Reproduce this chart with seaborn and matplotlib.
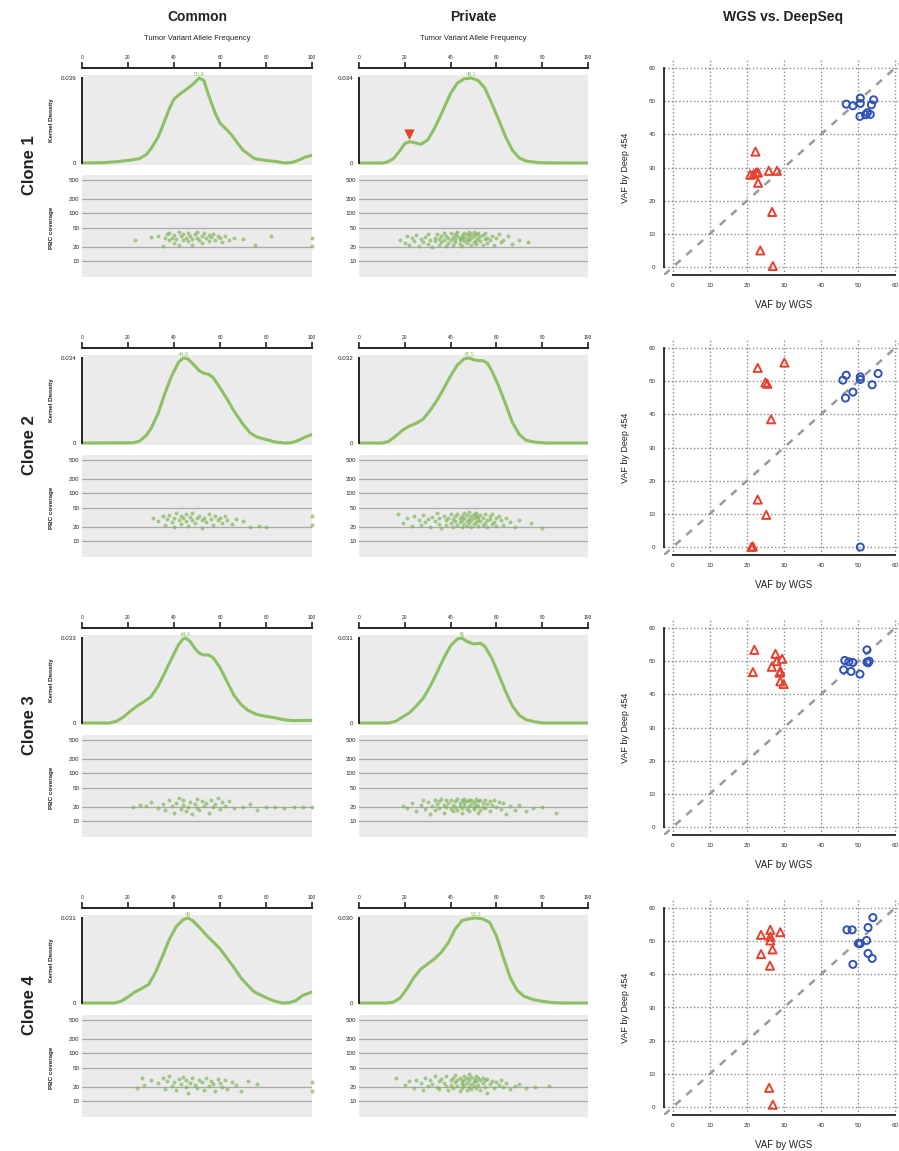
import matplotlib
matplotlib.use('Agg')
import matplotlib.pyplot as plt
import seaborn as sns

# ---------------- data ----------------
clones = ['Clone 1', 'Clone 2', 'Clone 3', 'Clone 4']
vaf_ticks = [0, 20, 40, 60, 80, 100]
cov_ticks = [10, 20, 50, 100, 200, 500]
xy_ticks = [0, 10, 20, 30, 40, 50, 60]

# kernel density curves (density in units of 1e-3)
dx_c1_common = [0, 10, 15, 20, 25, 28, 30, 33, 35, 38, 40, 42, 45, 48, 51, 53, 55, 58, 60, 63,
                65, 68, 70, 75, 80, 85, 88, 91, 94, 97, 100]
dy_c1_common = [0, 0.2, 0.6, 1.2, 2, 3.9, 6.6, 11.7, 16.8, 25, 29.3, 31.2, 33.5, 35.9, 39, 37.8,
                31.2, 22.6, 18.3, 15.2, 12.9, 8.6, 5.9, 2, 1.2, 0.6, 0, 0.2, 1.2, 2.7, 3.5]
dx_c1_private = [0, 10, 12, 15, 18, 20, 22, 24, 27, 30, 33, 36, 40, 43, 46, 49, 52, 55, 58, 61,
                 64, 67, 70, 73, 77, 80, 90, 100]
dy_c1_private = [0, 0, 0.3, 1.7, 5.1, 7.8, 8.5, 8.2, 7.5, 9.2, 13.9, 19.7, 27.9, 32, 33.7, 34, 33,
                 29.9, 23.8, 17.3, 10.5, 5.1, 2, 0.8, 0.3, 0.1, 0, 0]
dx_c2_common = [0, 22, 25, 28, 30, 33, 36, 39, 42, 44, 46, 49, 51, 53, 55, 57, 60, 63, 66, 70,
                73, 76, 80, 84, 88, 91, 94, 97, 100]
dy_c2_common = [0, 0.1, 0.7, 3.1, 5.8, 11.6, 19.7, 26.9, 32.3, 34, 33.7, 30.9, 28.9, 27.9, 27.5,
                26.2, 22.1, 17.7, 12.9, 7.5, 4.1, 2.4, 1.4, 0.4, 0, 0.1, 1, 2.4, 3.4]
dx_c2_private = [0, 10, 13, 16, 19, 22, 25, 28, 31, 34, 37, 40, 43, 46, 48, 50, 52, 54, 56, 58,
                 61, 64, 67, 70, 73, 77, 82, 100]
dy_c2_private = [0, 0, 0.6, 2.6, 4.8, 6.4, 7.4, 9, 12.2, 16, 20.5, 25.3, 29.4, 31.7, 32, 31.4, 31,
                 31, 30.1, 27.2, 21.4, 14.7, 7.7, 3.2, 1, 0.3, 0, 0]
dx_c3_common = [0, 12, 15, 18, 21, 24, 27, 30, 33, 36, 39, 42, 44, 45, 47, 49, 51, 53, 55, 57,
                60, 63, 66, 69, 72, 76, 80, 84, 88, 92, 96, 100]
dy_c3_common = [0, 0, 0.7, 2.3, 4.6, 6.6, 8.3, 10.2, 14.2, 19.5, 25.1, 30.4, 32.7, 33, 31.7, 29,
                27.1, 26.4, 26.4, 25.4, 21.5, 16.2, 10.9, 7.3, 5, 3.3, 2.6, 2, 1.2, 0.9, 1, 1]
dx_c3_private = [0, 13, 16, 19, 22, 25, 28, 31, 34, 37, 40, 43, 45, 47, 50, 53, 55, 58, 61, 64,
                 67, 70, 73, 77, 81, 100]
dy_c3_private = [0, 0, 0.6, 2.2, 3.7, 6.2, 9, 13.3, 18.3, 23.6, 28.2, 30.7, 31, 29.8, 28.8, 29.1,
                 27.9, 23.6, 17.7, 11.5, 6.2, 2.8, 1.2, 0.4, 0, 0]
dx_c4_common = [0, 14, 17, 20, 23, 26, 29, 32, 35, 38, 41, 44, 46, 48, 51, 54, 57, 60, 63, 66,
                69, 72, 75, 78, 81, 84, 87, 90, 93, 96, 100]
dy_c4_common = [0, 0, 0.6, 2.2, 4, 5.3, 6.8, 11.2, 17.1, 23.3, 27.9, 30.4, 31, 30.1, 27.6, 24.8,
                22.3, 19.8, 16.4, 13, 9.3, 6.5, 4, 2.8, 1.6, 0.6, 0, 0.1, 0.9, 2.8, 4]
dx_c4_private = [0, 12, 15, 18, 21, 24, 27, 30, 33, 36, 39, 42, 45, 48, 51, 54, 57, 60, 63, 66,
                 69, 72, 76, 80, 85, 90, 100]
dy_c4_private = [0, 0, 0.3, 1.8, 5.1, 9, 12, 13.8, 15.6, 18, 21.3, 26.1, 29.1, 29.7, 30, 29.7,
                 28.5, 23.7, 16.2, 9, 4.5, 2.4, 1.2, 0.6, 0.1, 0, 0]

peak_labels_common = ['50.9', '44.6', '44.6', '46']
peak_labels_private = ['49.1', '47.5', '45', '52.3']

# flagged sub-peak in clone 1 private
flag_vaf = [21.8]
flag_density = [11.8]

# tumor VAF vs PBC coverage for each variant
cv_c1_common = [23, 30, 33, 35, 36, 37, 38, 38, 39, 40, 40, 41, 42, 42, 43, 44, 44, 45, 46, 46,
                47, 48, 48, 49, 50, 50, 51, 52, 52, 53, 54, 55, 55, 56, 57, 58, 59, 60, 61, 62,
                64, 66, 70, 75, 82, 100, 100]
cc_c1_common = [27, 32, 33, 21, 30, 36, 27, 38, 31, 24, 35, 29, 40, 22, 33, 28, 37, 31, 26, 39,
                34, 29, 22, 36, 41, 31, 27, 34, 24, 38, 30, 35, 26, 32, 37, 28, 33, 30, 25, 34,
                27, 31, 29, 22, 33, 31, 21]
cv_c1_private = [18, 20, 21, 22, 23, 24, 25, 26, 27, 28, 29, 30, 30, 31, 32, 33, 33, 34, 35, 35,
                 36, 36, 37, 37, 38, 38, 39, 39, 40, 40, 41, 41, 42, 42, 42, 43, 43, 44, 44, 44,
                 45, 45, 45, 46, 46, 46, 47, 47, 47, 48, 48, 48, 49, 49, 49, 50, 50, 50, 51, 51,
                 51, 52, 52, 53, 53, 54, 54, 55, 55, 56, 56, 57, 58, 59, 60, 61, 62, 63, 65, 67,
                 70, 74]
cc_c1_private = [28, 24, 33, 22, 30, 26, 35, 21, 29, 25, 32, 23, 37, 27, 20, 31, 26, 36, 22, 29,
                 33, 25, 39, 28, 21, 34, 30, 24, 38, 27, 32, 22, 36, 29, 25, 33, 40, 23, 31, 27,
                 35, 21, 30, 38, 26, 32, 24, 36, 29, 40, 33, 27, 22, 37, 31, 25, 34, 41, 28, 23,
                 36, 30, 39, 26, 33, 22, 35, 29, 38, 24, 31, 27, 34, 22, 30, 36, 25, 28, 33, 23,
                 27, 25]
cv_c2_common = [31, 33, 35, 36, 37, 38, 39, 40, 40, 41, 42, 43, 43, 44, 45, 45, 46, 47, 48, 48,
                49, 50, 51, 52, 52, 53, 54, 55, 56, 57, 58, 59, 60, 61, 62, 63, 65, 67, 70, 73,
                77, 80, 100, 100]
cc_c2_common = [30, 26, 33, 22, 29, 35, 25, 31, 20, 38, 27, 33, 23, 30, 36, 26, 21, 32, 28, 39,
                24, 30, 34, 27, 19, 31, 25, 36, 29, 22, 33, 27, 30, 24, 34, 28, 23, 29, 26, 20,
                21, 20, 33, 22]
cv_c2_private = [17, 19, 21, 23, 24, 26, 27, 28, 29, 30, 31, 32, 33, 34, 35, 35, 36, 37, 38, 38,
                 39, 40, 40, 41, 41, 42, 42, 43, 43, 44, 44, 45, 45, 45, 46, 46, 46, 47, 47, 47,
                 48, 48, 48, 49, 49, 49, 50, 50, 50, 51, 51, 51, 52, 52, 52, 53, 53, 54, 54, 55,
                 55, 56, 56, 57, 57, 58, 58, 59, 60, 60, 61, 62, 63, 64, 66, 68, 70, 75, 80]
cc_c2_private = [36, 24, 30, 21, 33, 27, 22, 35, 25, 29, 20, 32, 26, 38, 23, 30, 19, 34, 27, 22,
                 31, 36, 24, 29, 20, 33, 26, 37, 22, 30, 25, 34, 20, 28, 38, 23, 31, 26, 35, 21,
                 29, 40, 24, 33, 27, 20, 36, 30, 23, 34, 25, 38, 28, 21, 32, 26, 35, 22, 30, 24,
                 37, 27, 20, 33, 29, 23, 36, 25, 31, 21, 34, 27, 22, 30, 25, 20, 28, 24, 19]
cv_c3_common = [22, 25, 28, 30, 33, 35, 36, 38, 39, 40, 41, 42, 43, 44, 44, 45, 46, 47, 48, 49,
                50, 50, 51, 52, 53, 54, 55, 56, 57, 58, 59, 60, 61, 62, 64, 66, 70, 73, 76, 80,
                84, 88, 92, 96, 100]
cc_c3_common = [20, 22, 21, 25, 19, 23, 17, 28, 21, 15, 24, 30, 18, 22, 27, 16, 20, 25, 14, 23,
                29, 19, 17, 26, 21, 24, 15, 28, 20, 23, 31, 18, 25, 21, 26, 19, 20, 23, 17, 20,
                20, 19, 20, 20, 20]
cv_c3_private = [19, 21, 23, 25, 27, 28, 29, 30, 31, 32, 33, 33, 34, 35, 35, 36, 37, 37, 38, 38,
                 39, 40, 40, 41, 41, 42, 42, 43, 43, 44, 44, 45, 45, 45, 46, 46, 46, 47, 47, 48,
                 48, 48, 49, 49, 50, 50, 50, 51, 51, 52, 52, 52, 53, 53, 54, 54, 55, 55, 56, 57,
                 57, 58, 59, 60, 61, 62, 63, 64, 66, 68, 70, 73, 76, 80, 86]
cc_c3_private = [21, 19, 24, 16, 22, 27, 18, 25, 14, 21, 28, 17, 23, 26, 19, 29, 22, 15, 27, 20,
                 24, 18, 28, 22, 16, 26, 20, 29, 17, 24, 21, 27, 19, 15, 25, 22, 29, 18, 26, 21,
                 28, 16, 23, 27, 20, 25, 18, 29, 22, 15, 26, 21, 28, 17, 24, 20, 27, 19, 23, 26,
                 16, 22, 28, 20, 25, 18, 24, 14, 21, 17, 22, 16, 19, 20, 15]
cv_c4_common = [24, 26, 27, 30, 33, 35, 36, 37, 38, 39, 40, 41, 42, 43, 44, 45, 45, 46, 47, 48,
                49, 50, 51, 52, 53, 54, 55, 56, 57, 58, 59, 60, 61, 62, 63, 65, 67, 69, 72, 76,
                100, 100]
cc_c4_common = [19, 31, 22, 27, 24, 30, 18, 26, 33, 21, 25, 17, 29, 23, 32, 20, 27, 15, 24, 30,
                22, 19, 28, 25, 17, 31, 21, 26, 23, 16, 29, 24, 20, 27, 18, 25, 22, 16, 26, 23,
                25, 16]
cv_c4_private = [16, 20, 22, 24, 25, 27, 28, 29, 30, 31, 32, 33, 34, 35, 35, 36, 37, 38, 38, 39,
                 40, 40, 41, 41, 42, 42, 43, 43, 44, 44, 45, 45, 45, 46, 46, 46, 47, 47, 47, 48,
                 48, 48, 49, 49, 49, 50, 50, 50, 51, 51, 51, 52, 52, 53, 53, 54, 54, 55, 55, 56,
                 56, 57, 58, 59, 60, 61, 62, 63, 64, 66, 68, 70, 73, 77, 83]
cc_c4_private = [30, 22, 26, 19, 28, 24, 17, 31, 21, 27, 23, 33, 20, 26, 18, 29, 24, 21, 34, 17,
                 27, 22, 30, 19, 25, 35, 21, 28, 16, 31, 23, 26, 19, 33, 22, 28, 17, 30, 24, 36,
                 20, 27, 23, 18, 32, 25, 29, 21, 34, 19, 26, 30, 22, 28, 17, 31, 24, 20, 27, 15,
                 29, 23, 26, 19, 25, 22, 28, 20, 24, 18, 21, 23, 19, 20, 21]

# WGS vs deep 454 VAF (red = private, blue = common)
wgs_red_c1 = [22.3, 20.9, 21.8, 22.5, 23.0, 23.0, 25.9, 28.1, 26.8, 23.6, 27.0]
deep_red_c1 = [34.8, 27.8, 28.0, 28.5, 28.5, 25.4, 29.0, 29.0, 16.6, 5.0, 0.3]
wgs_blue_c1 = [46.8, 48.6, 50.6, 50.6, 50.5, 52.0, 52.5, 53.3, 53.6, 54.2]
deep_blue_c1 = [49.1, 48.6, 50.9, 49.3, 45.4, 45.9, 46.5, 46.0, 48.9, 50.4]
wgs_red_c2 = [22.9, 30.1, 25.0, 25.5, 26.5, 22.9, 25.2, 21.2, 21.6]
deep_red_c2 = [54.0, 55.6, 49.6, 49.2, 38.5, 14.3, 9.7, 0.0, 0.2]
wgs_blue_c2 = [45.9, 46.8, 46.6, 48.6, 50.6, 50.6, 53.8, 55.4, 50.6]
deep_blue_c2 = [50.3, 51.8, 44.9, 46.7, 51.3, 50.5, 48.9, 52.3, 0.0]
wgs_red_c3 = [22.0, 21.6, 27.7, 26.7, 28.0, 29.5, 29.0, 28.8, 29.0, 29.9]
deep_red_c3 = [53.4, 46.7, 52.2, 48.3, 50.0, 50.7, 47.0, 46.5, 43.9, 43.1]
wgs_blue_c3 = [46.4, 47.5, 48.6, 46.1, 48.1, 50.5, 52.4, 52.4, 53.0, 52.7]
deep_blue_c3 = [50.2, 49.8, 49.6, 47.4, 46.9, 46.1, 53.4, 49.7, 50.0, 49.5]
wgs_red_c4 = [23.8, 23.8, 26.3, 26.3, 26.3, 29.0, 26.9, 26.2, 26.0, 27.0]
deep_red_c4 = [51.9, 46.1, 53.4, 51.4, 50.2, 52.7, 47.5, 42.6, 5.8, 0.7]
wgs_blue_c4 = [47.0, 48.4, 48.6, 50.6, 50.1, 52.3, 52.7, 54.0, 52.7, 53.8]
deep_blue_c4 = [53.4, 53.4, 43.0, 49.3, 49.3, 50.2, 54.1, 57.1, 46.3, 44.8]

dens_common = [(dx_c1_common, dy_c1_common), (dx_c2_common, dy_c2_common),
               (dx_c3_common, dy_c3_common), (dx_c4_common, dy_c4_common)]
dens_private = [(dx_c1_private, dy_c1_private), (dx_c2_private, dy_c2_private),
                (dx_c3_private, dy_c3_private), (dx_c4_private, dy_c4_private)]
cov_common = [(cv_c1_common, cc_c1_common), (cv_c2_common, cc_c2_common),
              (cv_c3_common, cc_c3_common), (cv_c4_common, cc_c4_common)]
cov_private = [(cv_c1_private, cc_c1_private), (cv_c2_private, cc_c2_private),
               (cv_c3_private, cc_c3_private), (cv_c4_private, cc_c4_private)]
wgs_deep = [(wgs_red_c1, deep_red_c1, wgs_blue_c1, deep_blue_c1),
            (wgs_red_c2, deep_red_c2, wgs_blue_c2, deep_blue_c2),
            (wgs_red_c3, deep_red_c3, wgs_blue_c3, deep_blue_c3),
            (wgs_red_c4, deep_red_c4, wgs_blue_c4, deep_blue_c4)]

# ---------------- style ----------------
GREEN = '#8cc063'
DOT = '#7fb556'
PANEL = '#ebebeb'
RED = '#e5412f'
BLUE = '#2f52b8'
INK = '#222222'

sns.set_style('white')
plt.rcParams['font.family'] = ['Liberation Sans', 'DejaVu Sans']

W, H = 899, 1151
fig = plt.figure(figsize=(W / 100, H / 100), dpi=100)


def add_ax(x0, y0, x1, y1):
    # pixel box (from top-left) -> figure fraction
    return fig.add_axes([x0 / W, 1 - y1 / H, (x1 - x0) / W, (y1 - y0) / H])


def density_panel(x0, x1, top, xs, ys, label, show_ylabel):
    ax = add_ax(x0, top + 7, x1, top + 97)
    yv = [v / 1000 for v in ys]
    m = max(yv)
    sns.lineplot(x=xs, y=yv, ax=ax, color=GREEN, linewidth=2.2)
    ax.set_facecolor(PANEL)
    ax.set_xlim(0, 100)
    ax.set_ylim(-0.0235 * m, 1.0353 * m)
    for s in ['right', 'bottom']:
        ax.spines[s].set_visible(False)
    ax.spines['left'].set_bounds(0, m)
    ax.spines['left'].set_linewidth(1.4)
    ax.spines['left'].set_color(INK)
    ax.spines['top'].set_position(('outward', 5))
    ax.spines['top'].set_linewidth(1.4)
    ax.spines['top'].set_color(INK)
    ax.xaxis.set_ticks_position('top')
    ax.set_xticks(vaf_ticks)
    ax.set_xticklabels([str(t) for t in vaf_ticks])
    ax.tick_params(axis='x', direction='out', length=4.5, width=1.2, labelsize=3.5, pad=1,
                   colors=INK)
    ax.set_yticks([0, m])
    ax.set_yticklabels(['0', f'{m:.3f}'])
    ax.tick_params(axis='y', direction='out', length=3, width=1, labelsize=4.5, pad=1,
                   colors=INK)
    ax.set_xlabel('')
    ax.set_ylabel('')
    ipk = yv.index(m)
    ax.text(xs[ipk], m * 1.01, label, ha='center', va='bottom', fontsize=4, color=GREEN,
            clip_on=False)
    if show_ylabel:
        fig.text(52 / W, 1 - (top + 52) / H, 'Kernel Density', rotation=90, ha='center',
                 va='center', fontsize=4.5, fontweight='bold', color=INK)
    return ax


def coverage_panel(x0, x1, top, vaf, cov, show_ylabel):
    ax = add_ax(x0, top + 107, x1, top + 209)
    ax.set_facecolor(PANEL)
    ax.set_yscale('log')
    ax.set_xlim(0, 100)
    ax.set_ylim(4.6, 640)
    ax.set_axisbelow(True)
    ax.grid(axis='y', color='#a9a9a9', linewidth=0.9)
    ax.grid(axis='x', visible=False)
    sns.scatterplot(x=vaf, y=cov, ax=ax, s=6, color=DOT, alpha=0.65, edgecolor=DOT,
                    linewidth=0.3, clip_on=False, zorder=3)
    for s in ax.spines.values():
        s.set_visible(False)
    ax.set_xticks([])
    ax.set_yticks(cov_ticks)
    ax.set_yticklabels([str(t) for t in cov_ticks])
    ax.minorticks_off()
    ax.tick_params(axis='y', length=0, labelsize=4.5, pad=2, colors=INK)
    ax.set_xlabel('')
    ax.set_ylabel('')
    if show_ylabel:
        fig.text(52 / W, 1 - (top + 160) / H, 'PBC coverage', rotation=90, ha='center',
                 va='center', fontsize=4.5, fontweight='bold', color=INK)
    return ax


def wgs_panel(top, wr, dr, wb, db):
    ax = add_ax(664, top - 8, 904, top + 207)
    ax.set_xlim(-2.4, 62.4)
    ax.set_ylim(-2.4, 62.4)
    ax.set_xticks(xy_ticks)
    ax.set_yticks(xy_ticks)
    ax.grid(True, linestyle=':', color='#8a8a8a', linewidth=1)
    ax.axline((0, 0), (60, 60), linestyle=(0, (3, 3)), color='#9a9a9a', linewidth=1.8,
              zorder=1)
    sns.scatterplot(x=wr, y=dr, ax=ax, marker='^', s=34, facecolor='none', edgecolor=RED,
                    linewidth=1.4, zorder=3)
    sns.scatterplot(x=wb, y=db, ax=ax, marker='o', s=26, facecolor='none', edgecolor=BLUE,
                    linewidth=1.4, zorder=3)
    for s in ['top', 'right']:
        ax.spines[s].set_visible(False)
    for s in ['left', 'bottom']:
        ax.spines[s].set_bounds(0, 60)
        ax.spines[s].set_linewidth(1.4)
        ax.spines[s].set_color('#333333')
    ax.tick_params(direction='out', length=4, width=1, labelsize=4.5, pad=2, colors='#333333')
    ax.set_xlabel('')
    ax.set_ylabel('')
    fig.text(625 / W, 1 - (top + 100) / H, 'VAF by Deep 454', rotation=90, ha='center',
             va='center', fontsize=6.5, color=INK)
    fig.text(784 / W, 1 - (top + 237) / H, 'VAF by WGS', ha='center', va='center',
             fontsize=7, color=INK)
    return ax


# ---------------- headers ----------------
fig.text(197 / W, 1 - 17 / H, 'Common', ha='center', va='center', fontsize=10,
         fontweight='bold', color=INK)
fig.text(473 / W, 1 - 17 / H, 'Private', ha='center', va='center', fontsize=10,
         fontweight='bold', color=INK)
fig.text(783 / W, 1 - 17 / H, 'WGS vs. DeepSeq', ha='center', va='center', fontsize=10,
         fontweight='bold', color=INK)
for xc in [197, 473]:
    fig.text(xc / W, 1 - 38 / H, 'Tumor Variant Allele Frequency', ha='center', va='center',
             fontsize=5.5, color=INK)

# ---------------- panels ----------------
for r, name in enumerate(clones):
    top = 68 + 280 * r
    fig.text(30 / W, 1 - (165 + 280 * r) / H, name, rotation=90, ha='center', va='center',
             fontsize=12, fontweight='bold', color=INK)

    xs, ys = dens_common[r]
    density_panel(82, 312, top, xs, ys, peak_labels_common[r], True)
    xs, ys = dens_private[r]
    axp = density_panel(359, 588, top, xs, ys, peak_labels_private[r], False)
    if r == 0:
        sns.scatterplot(x=flag_vaf, y=[v / 1000 for v in flag_density], ax=axp, marker='v',
                        s=45, color=RED, edgecolor=RED, zorder=4)

    vaf, cov = cov_common[r]
    coverage_panel(82, 312, top, vaf, cov, True)
    vaf, cov = cov_private[r]
    coverage_panel(359, 588, top, vaf, cov, False)

    wgs_panel(top, *wgs_deep[r])

fig.savefig('out.png', dpi=100)
